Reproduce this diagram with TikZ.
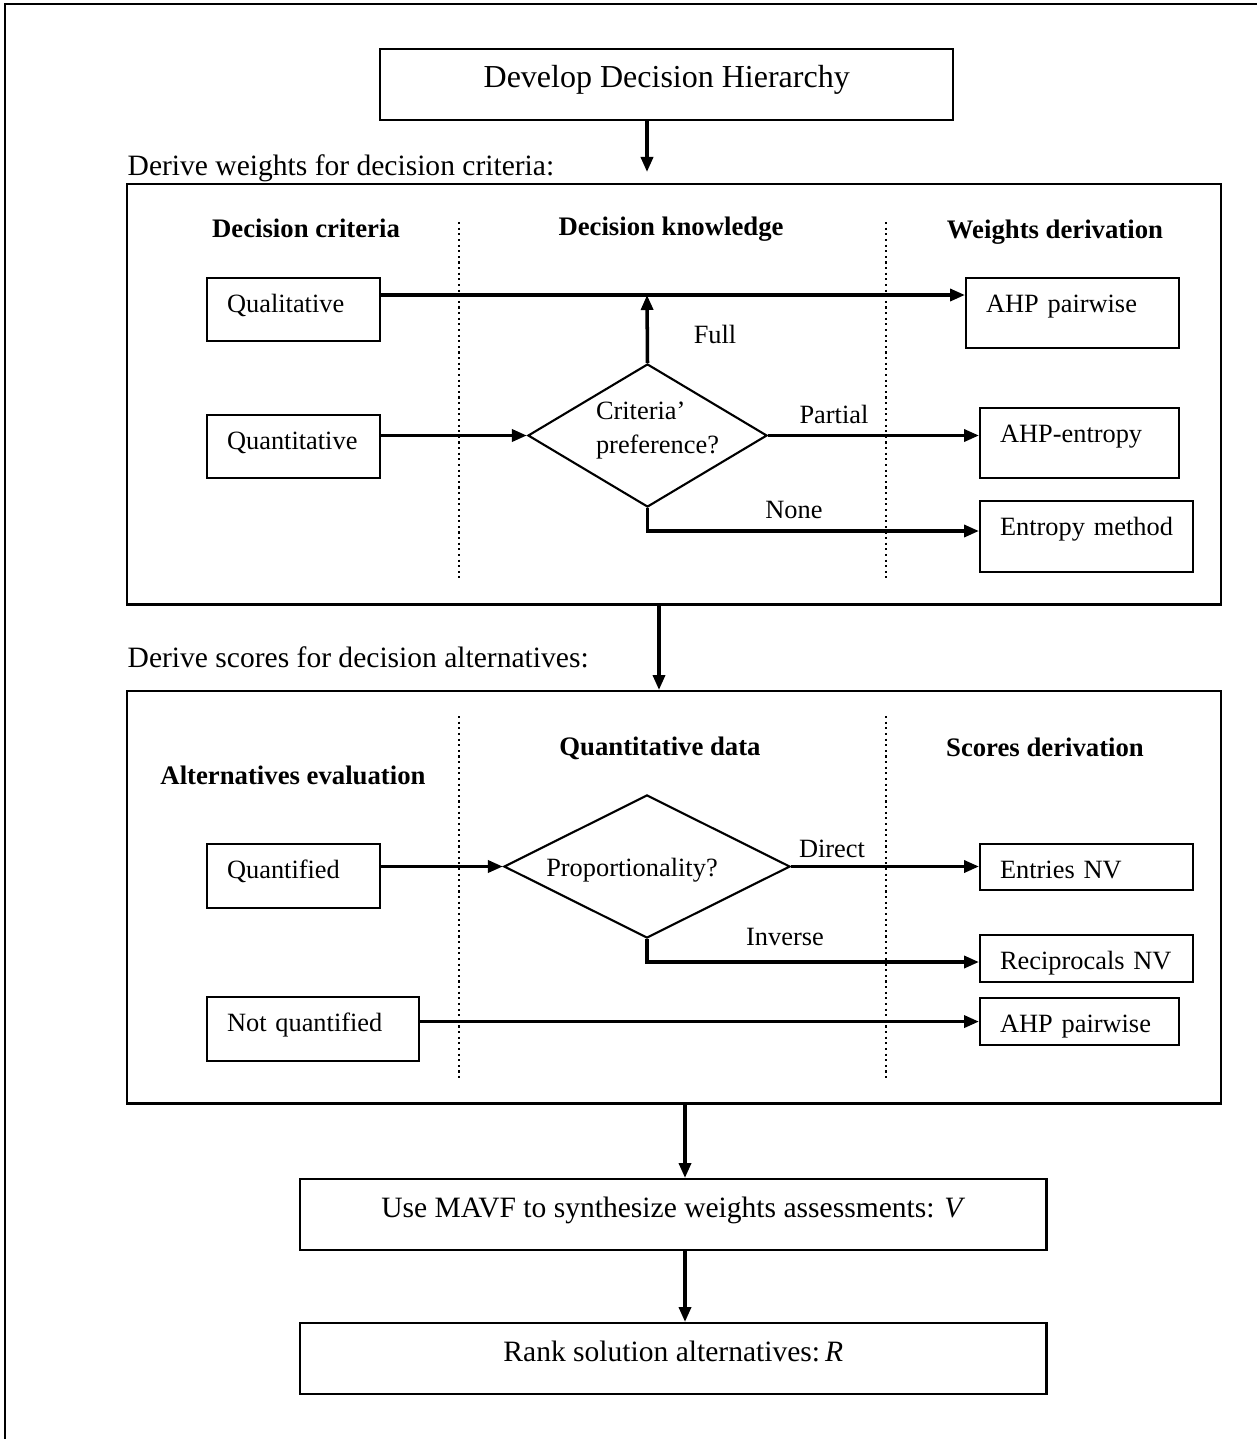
\documentclass[tikz,border=0pt]{standalone}
\usepackage{fontspec}
\setmainfont{Liberation Serif}
\usetikzlibrary{shapes.geometric, arrows.meta}

\tikzset{
  box/.style={draw, line width=0.6pt, inner sep=0pt, text height=0.23cm, text depth=0.17cm, font=\fontsize{7.5}{9}\selectfont},
  cell/.style={box, align=left, inner xsep=0.2cm, anchor=north west, text height=0.345cm, text depth=#1},
  frame/.style={draw, line width=0.7pt, inner sep=0pt, anchor=north west},
  choice/.style={draw, diamond, line width=0.6pt, inner sep=0pt, align=left, font=\fontsize{7.5}{9.4}\selectfont},
  flow/.style={line width=1pt, -{Triangle[length=0.15cm,width=0.12cm]}},
  divider/.style={densely dotted, line width=0.6pt},
  head/.style={anchor=base, font=\bfseries\fontsize{7.6}{9}\selectfont},
  tag/.style={anchor=base, font=\fontsize{7.5}{9}\selectfont},
  section/.style={anchor=base west, inner sep=0pt, font=\fontsize{8.4}{10}\selectfont}
}

\begin{document}
\begin{tikzpicture}[x=0.01cm, y=-0.01cm]
  \useasboundingbox (0,0) rectangle (1257,1439);
  % page frame, only top and left edges
  \draw[line width=0.6pt] (5,1439) -- (5,4) -- (1257,4);

  % top box
  \node[box, anchor=north west, minimum width=5.73cm, minimum height=0.71cm, font=\fontsize{9.1}{11}\selectfont] (H) at (379,48) {Develop Decision Hierarchy};
  \coordinate (Hin) at (647,172);
  \draw[flow] (H.south -| Hin) -- (Hin);

  % weights panel
  \node[section] (Wlab) at (127,175) {Derive weights for decision criteria:};
  \node[frame, minimum width=10.93cm, minimum height=4.20cm] (W) at (126,183) {};
  \draw[divider] (459,222) -- (459,578);
  \draw[divider] (886,222) -- (886,578);

  \node[head] (Wh1) at (306,237) {Decision criteria};
  \node[head] (Wh2) at (671,235) {Decision knowledge};
  \node[head] (Wh3) at (1055,238) {Weights derivation};

  \node[cell=0.285cm, text width=1.33cm] (Ql) at (206,277) {Qualitative};
  \node[cell=0.285cm, text width=1.33cm] (Qn) at (206,414) {Quantitative};
  \node[choice, aspect=1.67, minimum width=2.39cm, minimum height=1.43cm, text height=0.40cm, text depth=0.05cm] (P) at (647.5,435.5) {\hspace*{0.2cm}Criteria’\\\hspace*{0.2cm}preference?};
  \node[cell=0.355cm, text width=1.73cm] (A1) at (965,277) {AHP pairwise};
  \node[cell=0.355cm, text width=1.59cm] (A2) at (979,407) {AHP-entropy};
  \node[cell=0.365cm, text width=1.73cm] (E) at (979,500) {Entropy method};

  \coordinate (Pj) at (647,295);
  \draw[flow] (Ql.east |- Pj) -- (A1.west |- Pj);
  \draw[flow] (P.north) -- (Pj);
  \draw[flow] (Qn.east |- P.west) -- (P.west);
  \draw[flow] (P.east) -- (A2.west |- P.east);
  \draw[flow] (P.south) |- (E.west |- 0,531);

  \node[tag] (Lf) at (715,343) {Full};
  \node[tag] (Lp) at (834,423) {Partial};
  \node[tag] (Ln) at (794,518) {None};

  % scores panel
  \node[section] (Slab) at (127,667) {Derive scores for decision alternatives:};
  \node[frame, minimum width=10.93cm, minimum height=4.12cm] (S) at (126,690) {};
  \draw[flow] (W.south -| 659,0) -- (S.north -| 659,0);
  \draw[divider] (459,716) -- (459,1078);
  \draw[divider] (886,716) -- (886,1078);

  \node[head] (Sh1) at (293,784) {Alternatives evaluation};
  \node[head] (Sh2) at (660,755) {Quantitative data};
  \node[head] (Sh3) at (1045,756) {Scores derivation};

  \node[cell=0.295cm, text width=1.33cm] (Qf) at (206,843) {Quantified};
  \node[cell=0.295cm, text width=1.72cm] (Nq) at (206,996) {Not quantified};
  \node[choice, aspect=2, minimum width=2.86cm, minimum height=1.43cm, text height=0.25cm, text depth=0.05cm] (R) at (647,866.5) {Proportionality?\hspace*{0.3cm}};
  \node[cell=0.115cm, text width=1.73cm] (N1) at (979,843) {Entries NV};
  \node[cell=0.125cm, text width=1.73cm] (N2) at (979,934) {Reciprocals NV};
  \node[cell=0.125cm, text width=1.59cm] (A3) at (979,997) {AHP pairwise};

  \draw[flow] (Qf.east |- R.west) -- (R.west);
  \draw[flow] (R.east) -- (N1.west |- R.east);
  \draw[flow] (R.south) |- (N2.west |- 0,962);
  \draw[flow] (Nq.east |- A3.west) -- (A3.west);

  \node[tag] (Ld) at (832,857) {Direct};
  \node[tag] (Li) at (785,945) {Inverse};

  % synthesis and ranking
  \node[box, anchor=north west, minimum width=7.46cm, minimum height=0.71cm, font=\fontsize{8.4}{10}\selectfont] (M) at (299,1178) {Use MAVF to synthesize weights assessments: \textit{V}};
  \node[box, anchor=north west, minimum width=7.46cm, minimum height=0.71cm, font=\fontsize{8.4}{10}\selectfont] (K) at (299,1322) {Rank solution alternatives:\,\textit{R}};
  \draw[flow] (S.south -| 685,0) -- (M.north -| 685,0);
  \draw[flow] (M.south -| 685,0) -- (K.north -| 685,0);
\end{tikzpicture}
\end{document}
